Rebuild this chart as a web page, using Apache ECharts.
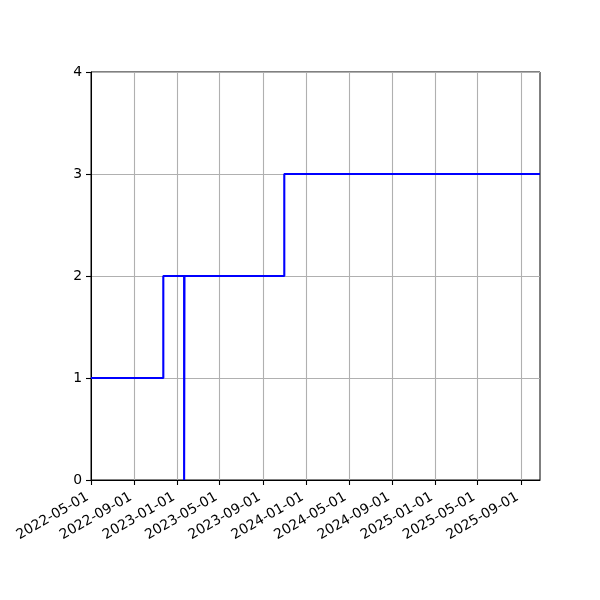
<!DOCTYPE html>
<html>
<head>
<meta charset="utf-8">
<script src="https://cdn.jsdelivr.net/npm/echarts@6/dist/echarts.min.js"></script>
<style>html,body{margin:0;padding:0;background:#fff}#c{width:600px;height:600px}</style>
</head>
<body>
<div id="c"></div>
<script>
const dates = ['2022-05-01','2022-11-22','2023-01-20','2023-01-21','2023-10-31','2025-10-25'];
const values = [1, 2, 0, 2, 3, 3];
const xTickLabels = ['2022-05-01','2022-09-01','2023-01-01','2023-05-01','2023-09-01','2024-01-01','2024-05-01','2024-09-01','2025-01-01','2025-05-01','2025-09-01'];
const xMin = '2022-05-01';
const xMax = '2025-10-25';
const yTicks = [0, 1, 2, 3, 4];

function toTs(s){ const p = s.split('-').map(Number); return Date.UTC(p[0], p[1]-1, p[2]); }
function fmt(v){ const d = new Date(v); const p = n => String(n).padStart(2,'0'); return d.getUTCFullYear()+'-'+p(d.getUTCMonth()+1)+'-'+p(d.getUTCDate()); }

const chart = echarts.init(document.getElementById('c'), null, {renderer:'canvas'});
const font = 'DejaVu Sans';
const tickTs = xTickLabels.map(toTs);
chart.setOption({
  animation: false,
  backgroundColor: '#fff',
  grid: {left: 91, right: 60, top: 72, bottom: 120, show: true, borderColor: '#000', borderWidth: 1, backgroundColor: 'transparent'},
  xAxis: {
    type: 'value',
    min: toTs(xMin), max: toTs(xMax),
    axisLine: {show: true, onZero: false, lineStyle: {color: '#000', width: 1}},
    axisTick: {show: true, inside: false, length: 5, lineStyle: {color: '#000', width: 1.1}, customValues: tickTs},
    axisLabel: {show: true, rotate: 30, margin: 14, padding: [0, 4, 0, 0], color: '#000', fontFamily: font, fontSize: 13.9,
      customValues: tickTs, formatter: v => fmt(v), hideOverlap: false, showMinLabel: true, showMaxLabel: true},
    splitLine: {show: true, lineStyle: {color: '#b0b0b0', width: 1.1}}
  },
  yAxis: {
    type: 'value', min: yTicks[0], max: yTicks[yTicks.length-1], interval: 1,
    axisLine: {show: true, onZero: false, lineStyle: {color: '#000', width: 1}},
    axisTick: {show: true, inside: false, length: 5, lineStyle: {color: '#000', width: 1.1}},
    axisLabel: {color: '#000', fontFamily: font, fontSize: 13.9, margin: 9},
    splitLine: {show: true, lineStyle: {color: '#b0b0b0', width: 1.1}}
  },
  series: [{
    type: 'line', step: 'end', showSymbol: false, symbol: 'none',
    data: dates.map((d,i) => [toTs(d), values[i]]),
    lineStyle: {color: '#0000ff', width: 2.1},
    clip: true
  }]
});
</script>
</body>
</html>
